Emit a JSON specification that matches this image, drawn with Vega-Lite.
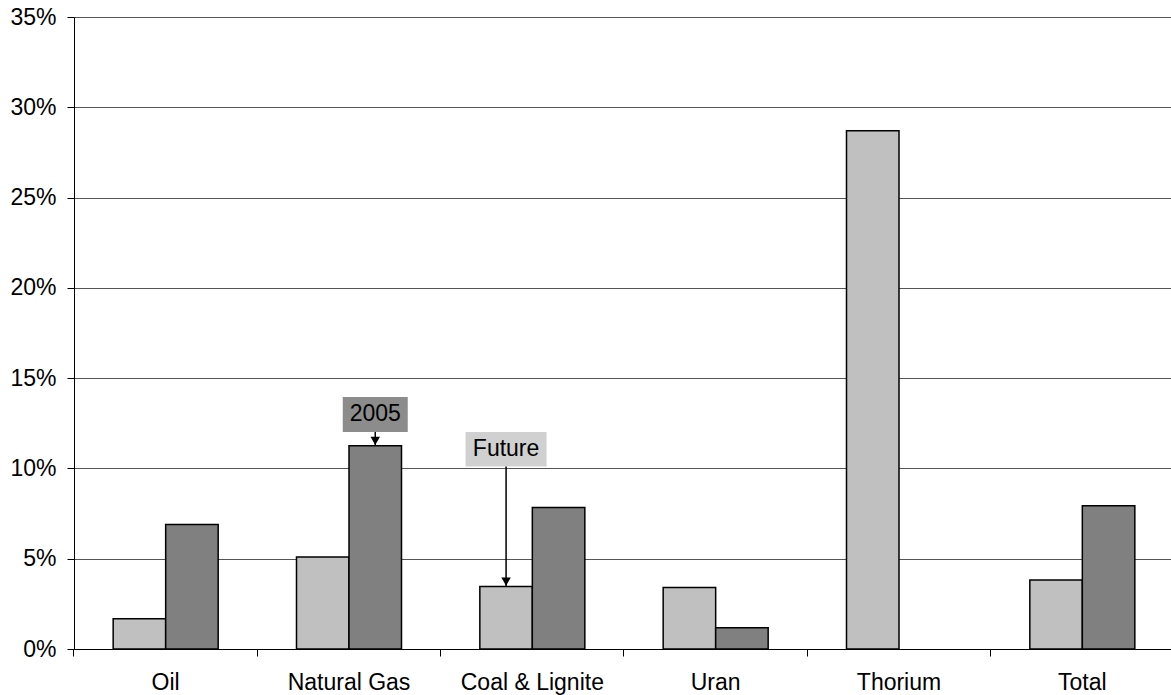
{
  "$schema": "https://vega.github.io/schema/vega-lite/v6.json",
  "width": 1097,
  "height": 632,
  "autosize": {"type": "none"},
  "padding": {"left": 74, "top": 17, "right": 0, "bottom": 46},
  "background": "white",
  "config": {
    "font": "Liberation Sans",
    "view": {"stroke": null},
    "axis": {"labelFont": "Liberation Sans", "labelColor": "#000000", "labelFontSize": 23}
  },
  "datasets": {
    "bars": [
      {"category": "Oil", "series": "Future", "value": 0.0167},
      {"category": "Oil", "series": "2005", "value": 0.0689},
      {"category": "Natural Gas", "series": "Future", "value": 0.0509},
      {"category": "Natural Gas", "series": "2005", "value": 0.1125},
      {"category": "Coal & Lignite", "series": "Future", "value": 0.0346},
      {"category": "Coal & Lignite", "series": "2005", "value": 0.0783},
      {"category": "Uran", "series": "Future", "value": 0.0341},
      {"category": "Uran", "series": "2005", "value": 0.0117},
      {"category": "Thorium", "series": "Future", "value": 0.287},
      {"category": "Total", "series": "Future", "value": 0.0382},
      {"category": "Total", "series": "2005", "value": 0.0793}
    ],
    "notes": [
      {"category": "Natural Gas", "series": "2005", "label": "2005", "boxTop": 0.1395, "boxBottom": 0.1202, "textY": 0.1300, "barTop": 0.1125},
      {"category": "Coal & Lignite", "series": "Future", "label": "Future", "boxTop": 0.1202, "boxBottom": 0.1010, "textY": 0.1107, "barTop": 0.0346}
    ]
  },
  "encoding": {
    "x": {
      "field": "category",
      "type": "nominal",
      "sort": null,
      "scale": {
        "domain": ["Oil", "Natural Gas", "Coal & Lignite", "Uran", "Thorium", "Total"],
        "range": [0, 1100],
        "paddingInner": 0.4273,
        "paddingOuter": 0.21365
      },
      "axis": {
        "title": null,
        "labelAngle": 0,
        "labelPadding": 15,
        "bandPosition": -0.3731,
        "tickSize": 7,
        "tickColor": "#000000",
        "tickWidth": 1,
        "domainColor": "#000000",
        "domainWidth": 1,
        "grid": false
      }
    },
    "xOffset": {
      "field": "series",
      "type": "nominal",
      "scale": {"domain": ["Future", "2005"], "paddingInner": 0, "paddingOuter": 0}
    }
  },
  "layer": [
    {
      "data": {"name": "bars"},
      "mark": {"type": "bar", "stroke": "#000000", "strokeWidth": 1.5},
      "encoding": {
        "y": {
          "field": "value",
          "type": "quantitative",
          "scale": {"domain": [0, 0.35], "nice": false},
          "axis": {
            "title": null,
            "values": [0, 0.05, 0.1, 0.15, 0.2, 0.25, 0.3, 0.35],
            "format": ".0%",
            "labelPadding": 11,
            "tickSize": 7,
            "tickColor": "#000000",
            "domainColor": "#000000",
            "domainWidth": 1,
            "grid": true,
            "gridColor": "#555555",
            "gridWidth": 1
          }
        },
        "color": {
          "field": "series",
          "type": "nominal",
          "scale": {"domain": ["Future", "2005"], "range": ["#C0C0C0", "#808080"]},
          "legend": null
        }
      }
    },
    {
      "data": {"name": "notes"},
      "transform": [{"filter": "datum.label === '2005'"}],
      "mark": {"type": "bar", "width": 65, "fill": "#8c8c8c", "xOffset": 1.5},
      "encoding": {
        "y": {"field": "boxTop", "type": "quantitative"},
        "y2": {"field": "boxBottom"}
      }
    },
    {
      "data": {"name": "notes"},
      "transform": [{"filter": "datum.label === 'Future'"}],
      "mark": {"type": "bar", "width": 81, "fill": "#d0d0d0", "xOffset": 5},
      "encoding": {
        "y": {"field": "boxTop", "type": "quantitative"},
        "y2": {"field": "boxBottom"}
      }
    },
    {
      "data": {"name": "notes"},
      "transform": [{"filter": "datum.label === 'Future'"}],
      "mark": {"type": "text", "fontSize": 23, "color": "#000000", "baseline": "middle", "align": "center", "xOffset": 4},
      "encoding": {
        "y": {"field": "textY", "type": "quantitative"},
        "text": {"field": "label"}
      }
    },
    {
      "data": {"name": "notes"},
      "transform": [{"filter": "datum.label === '2005'"}],
      "mark": {"type": "text", "fontSize": 23, "color": "#000000", "baseline": "middle", "align": "center"},
      "encoding": {
        "y": {"field": "textY", "type": "quantitative"},
        "text": {"field": "label"}
      }
    },
    {
      "data": {"name": "notes"},
      "mark": {"type": "rule", "color": "#000000", "strokeWidth": 1.5},
      "encoding": {
        "y": {"field": "boxBottom", "type": "quantitative"},
        "y2": {"field": "barTop"}
      }
    },
    {
      "data": {"name": "notes"},
      "mark": {"type": "point", "shape": "triangle-down", "filled": true, "color": "#000000", "size": 90, "opacity": 1, "yOffset": -5},
      "encoding": {
        "y": {"field": "barTop", "type": "quantitative"}
      }
    }
  ]
}
